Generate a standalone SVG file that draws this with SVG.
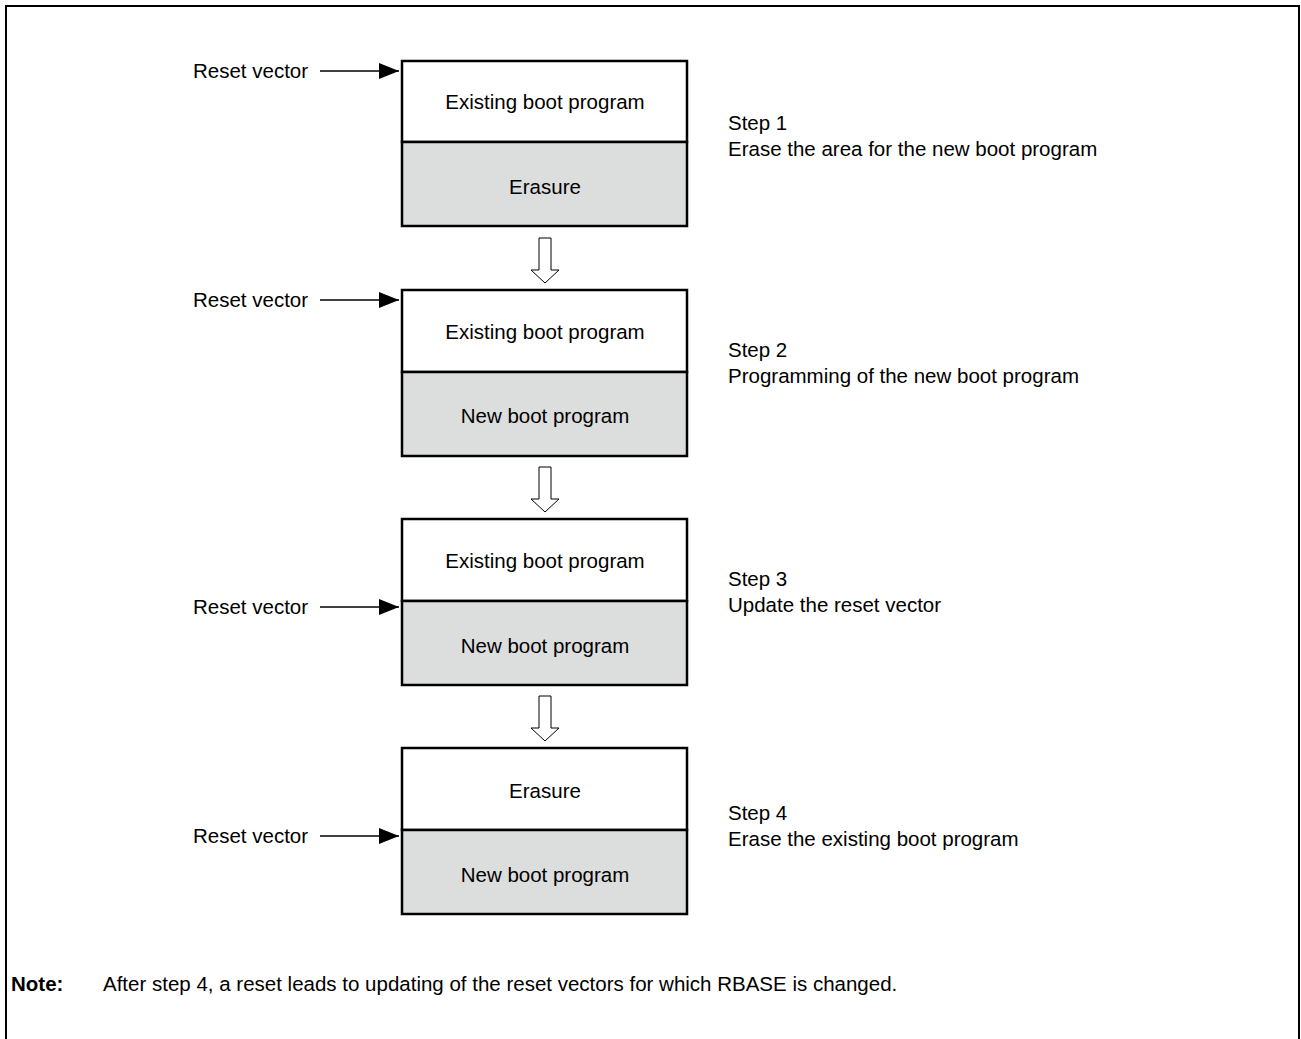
<svg xmlns="http://www.w3.org/2000/svg" width="1301" height="1039" viewBox="0 0 1301 1039">
<style>
text{font-family:"Liberation Sans",Arial,sans-serif;font-size:20.5px;fill:#000}
.c{text-anchor:middle}
.box{stroke:#000;stroke-width:2.5}
.w{fill:#fff}
.g{fill:#dcdedd}
.rv{stroke:#000;stroke-width:1.3;fill:none}
.ha{fill:#fff;stroke:#000;stroke-width:1}
</style>
<defs>
<marker id="ah" markerWidth="20" markerHeight="16" refX="20" refY="8" orient="auto" markerUnits="userSpaceOnUse"><path d="M0,0 L20,8 L0,16 Z" fill="#000"/></marker>
<path id="hollow" d="M-6,0 H6 V32 H14 L0,45 L-14,32 H-6 Z"/>
</defs>
<rect width="1301" height="1039" fill="#fff"/>
<path d="M6,1039 V6 H1299 V1039" fill="none" stroke="#000" stroke-width="2"/>
<g id="step1">
<rect class="box w" x="402" y="61" width="285" height="81"/>
<rect class="box g" x="402" y="142" width="285" height="84"/>
<text class="c" x="545" y="109">Existing boot program</text>
<text class="c" x="545" y="194">Erasure</text>
<text x="728" y="130">Step 1</text>
<text x="728" y="156">Erase the area for the new boot program</text>
<text x="193" y="78">Reset vector</text>
</g>
<g id="step2">
<rect class="box w" x="402" y="290" width="285" height="82"/>
<rect class="box g" x="402" y="372" width="285" height="84"/>
<text class="c" x="545" y="339">Existing boot program</text>
<text class="c" x="545" y="423">New boot program</text>
<text x="728" y="357">Step 2</text>
<text x="728" y="383">Programming of the new boot program</text>
<text x="193" y="307">Reset vector</text>
</g>
<g id="step3">
<rect class="box w" x="402" y="519" width="285" height="82"/>
<rect class="box g" x="402" y="601" width="285" height="84"/>
<text class="c" x="545" y="568">Existing boot program</text>
<text class="c" x="545" y="653">New boot program</text>
<text x="728" y="586">Step 3</text>
<text x="728" y="612">Update the reset vector</text>
<text x="193" y="614">Reset vector</text>
</g>
<g id="step4">
<rect class="box w" x="402" y="748" width="285" height="82"/>
<rect class="box g" x="402" y="830" width="285" height="84"/>
<text class="c" x="545" y="798">Erasure</text>
<text class="c" x="545" y="882">New boot program</text>
<text x="728" y="820">Step 4</text>
<text x="728" y="846">Erase the existing boot program</text>
<text x="193" y="843">Reset vector</text>
</g>
<g id="connectors">
<line class="rv" x1="320" y1="71" x2="399" y2="71" marker-end="url(#ah)"/>
<line class="rv" x1="320" y1="300" x2="399" y2="300" marker-end="url(#ah)"/>
<line class="rv" x1="320" y1="607" x2="399" y2="607" marker-end="url(#ah)"/>
<line class="rv" x1="320" y1="836" x2="399" y2="836" marker-end="url(#ah)"/>
<use href="#hollow" class="ha" x="545" y="238"/>
<use href="#hollow" class="ha" x="545" y="467"/>
<use href="#hollow" class="ha" x="545" y="696"/>
</g>
<g id="note">
<text x="11" y="991" font-weight="bold" font-size="23">Note:</text>
<text x="103" y="991" font-size="23">After step 4, a reset leads to updating of the reset vectors for which RBASE is changed.</text>
</g>
</svg>
